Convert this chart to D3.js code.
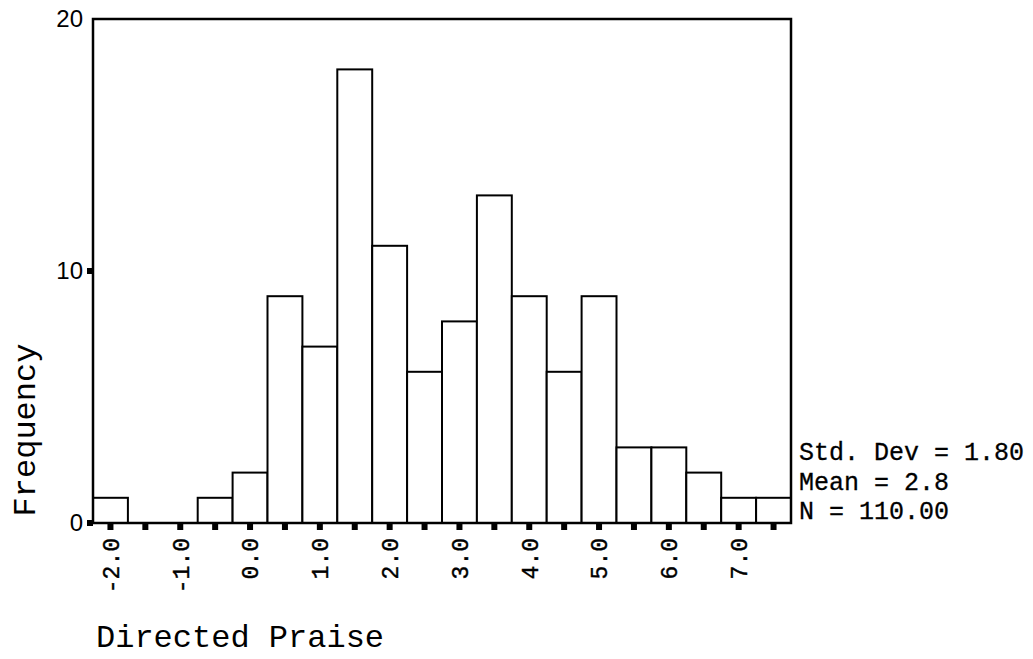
<!DOCTYPE html>
<html>
<head>
<meta charset="utf-8">
<script src="https://cdn.jsdelivr.net/npm/d3@7"></script>
<style>
  body { margin: 0; background: #fff; }
  svg { display: block; }
</style>
</head>
<body>
<svg id="chart"></svg>
<script>
// bin centres (width 0.5) and frequencies
const binCenters = [-2.0, -1.5, -1.0, -0.5, 0.0, 0.5, 1.0, 1.5, 2.0, 2.5, 3.0, 3.5, 4.0, 4.5, 5.0, 5.5, 6.0, 6.5, 7.0, 7.5];
const counts = [1, 0, 0, 1, 2, 9, 7, 18, 11, 6, 8, 13, 9, 6, 9, 3, 3, 2, 1, 1];
const xTickLabels = [-2, -1, 0, 1, 2, 3, 4, 5, 6, 7];
const yTicks = [0, 10, 20];
const stats = ['Std. Dev = 1.80', 'Mean = 2.8', 'N = 110.00'];

const binWidth = 0.5;
const W = 1033, H = 659;
const margin = { top: 19, right: 242, bottom: 136, left: 93 };
const width = W - margin.left - margin.right;
const height = H - margin.top - margin.bottom;
const mono = '"Liberation Mono", "Courier New", monospace';

const svg = d3.select('#chart')
  .attr('width', W)
  .attr('height', H);

const g = svg.append('g')
  .attr('transform', `translate(${margin.left},${margin.top})`);

const x = d3.scaleLinear()
  .domain([-2.25, 7.75])
  .range([0, width]);

const y = d3.scaleLinear()
  .domain([0, 20])
  .range([height, 0]);

// bars
g.selectAll('.bar')
  .data(binCenters.map((c, i) => [c, counts[i]]).filter(d => d[1] > 0))
  .enter()
  .append('rect')
  .attr('class', 'bar')
  .attr('x', d => x(d[0] - binWidth / 2))
  .attr('y', d => y(d[1]))
  .attr('width', d => x(d[0] + binWidth / 2) - x(d[0] - binWidth / 2))
  .attr('height', d => height - y(d[1]))
  .attr('fill', '#fff')
  .attr('stroke', '#000')
  .attr('stroke-width', 2);

// frame
g.append('rect')
  .attr('x', 0).attr('y', 0)
  .attr('width', width).attr('height', height)
  .attr('fill', 'none')
  .attr('stroke', '#000')
  .attr('stroke-width', 2.5);

// x tick dots at every bin centre
g.selectAll('.xdot')
  .data(binCenters)
  .enter()
  .append('rect')
  .attr('class', 'xdot')
  .attr('x', d => x(d) - 3)
  .attr('y', height + 1)
  .attr('width', 6)
  .attr('height', 6)
  .attr('fill', '#000');

// x tick labels, rotated
g.selectAll('.xlab')
  .data(xTickLabels)
  .enter()
  .append('text')
  .attr('class', 'xlab')
  .attr('transform', d => `translate(${x(d)},${height + 15}) rotate(-90)`)
  .attr('text-anchor', 'end')
  .attr('dy', '0.36em')
  .style('font-family', mono)
  .style('font-size', '23px')
  .style('stroke', '#000')
  .style('stroke-width', 0.4)
  .text(d => d.toFixed(1));

// y tick dots (none at the top corner) and labels
g.selectAll('.ydot')
  .data(yTicks.filter(d => d < 20))
  .enter()
  .append('rect')
  .attr('class', 'ydot')
  .attr('x', -6)
  .attr('y', d => y(d) - 3)
  .attr('width', 6)
  .attr('height', 6)
  .attr('fill', '#000');

g.selectAll('.ylab')
  .data(yTicks)
  .enter()
  .append('text')
  .attr('class', 'ylab')
  .attr('x', -10)
  .attr('y', d => y(d) - 1)
  .attr('text-anchor', 'end')
  .attr('dy', '0.36em')
  .style('font-family', '"Liberation Sans", Arial, sans-serif')
  .style('font-size', '24px')
  .text(d => d);

// axis titles
svg.append('text')
  .attr('transform', 'translate(35,430) rotate(-90)')
  .attr('text-anchor', 'middle')
  .style('font-family', mono)
  .style('font-size', '32px')
  .text('Frequency');

svg.append('text')
  .attr('x', 96)
  .attr('y', 647)
  .style('font-family', mono)
  .style('font-size', '32px')
  .text('Directed Praise');

// stats box
svg.selectAll('.stat')
  .data(stats)
  .enter()
  .append('text')
  .attr('class', 'stat')
  .attr('x', 799)
  .attr('y', (d, i) => 460 + i * 29.5)
  .style('font-family', mono)
  .style('font-size', '25px')
  .style('stroke', '#000')
  .style('stroke-width', 0.3)
  .text(d => d);
</script>
</body>
</html>
